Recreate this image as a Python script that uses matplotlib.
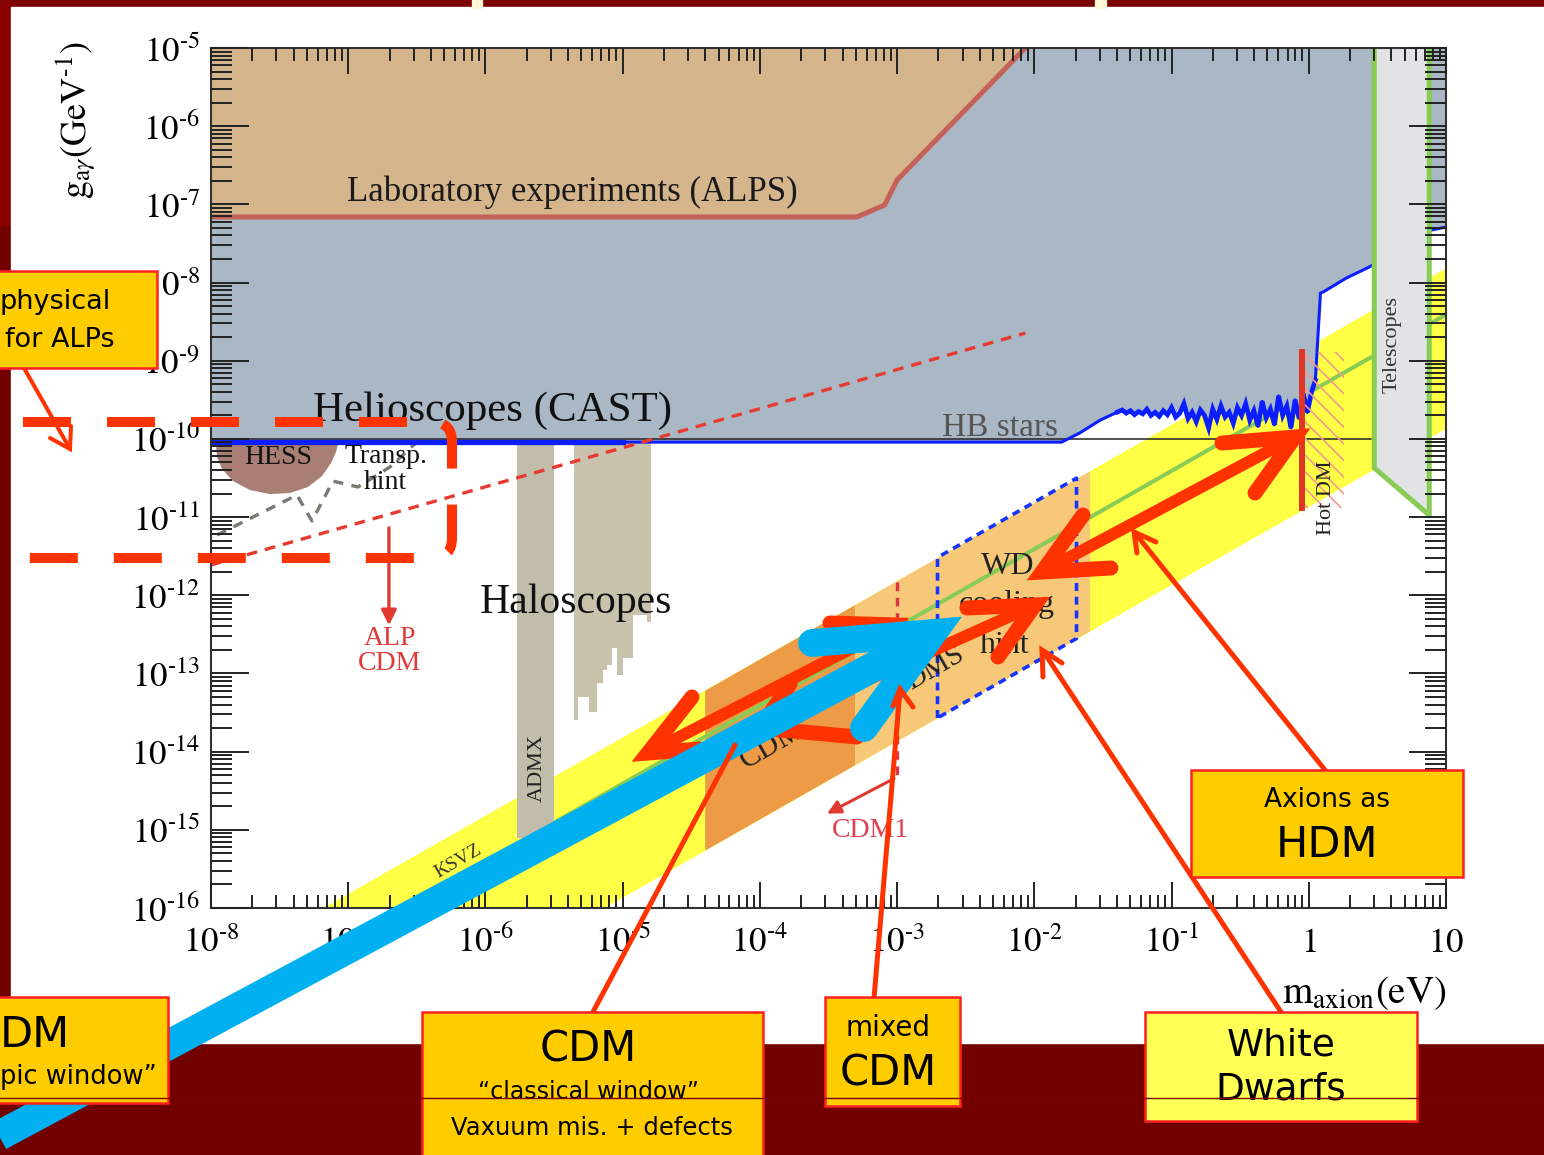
import numpy as np
import matplotlib
matplotlib.use("Agg")
import matplotlib.pyplot as plt
from matplotlib.patches import Rectangle, Polygon, PathPatch
from matplotlib.path import Path
from matplotlib.ticker import LogLocator, FuncFormatter, NullFormatter

plt.rcParams['mathtext.fontset'] = 'stix'
plt.rcParams['hatch.linewidth'] = 1.2

SERIF = 'Liberation Serif'
SANS = 'DejaVu Sans'
HY = '\u2010'  # short hyphen used in the exponents

# ---------------- chart values (m in eV, g in 1/GeV) ----------------
alps_m = [1e-8, 5.1e-4, 8.1e-4, 1.0e-3, 8.6e-3]
alps_g = [6.9e-8, 6.9e-8, 9.8e-8, 2.05e-7, 1e-5]

cast_m = [1e-8, 1.58e-2]
cast_g = [9.1e-11, 9.1e-11]
cast_thick_m = [1e-8, 1e-5]

# HB stars / telescope limit (log10 values)
hb_logm = [-1.67, -1.52, -1.394,
           -1.36, -1.33, -1.30, -1.27, -1.24, -1.21, -1.18, -1.15, -1.12, -1.09,
           -1.06, -1.03, -1.00, -0.97, -0.94, -0.91, -0.88, -0.85, -0.82, -0.79,
           -0.76, -0.73, -0.70, -0.67, -0.64, -0.61, -0.58, -0.55, -0.52, -0.49,
           -0.46, -0.43, -0.40, -0.37, -0.34, -0.31, -0.28, -0.25, -0.22, -0.19,
           -0.16, -0.13, -0.10, -0.07, -0.04, -0.01, 0.02,
           0.048, 0.085, 0.106, 0.274, 0.441, 0.893, 1.0]
hb_logg = [-9.925, -9.76, -9.656,
           -9.63, -9.67, -9.64, -9.69, -9.65, -9.68, -9.62, -9.70, -9.66, -9.71,
           -9.64, -9.69, -9.60, -9.72, -9.67, -9.55, -9.74, -9.66, -9.78, -9.63,
           -9.70, -9.86, -9.62, -9.75, -9.58, -9.72, -9.66, -9.80, -9.60, -9.70,
           -9.55, -9.76, -9.64, -9.84, -9.52, -9.73, -9.62, -9.82, -9.45, -9.70,
           -9.58, -9.86, -9.50, -9.74, -9.42, -9.66, -9.40,
           -9.25, -8.134, -8.12, -7.942, -7.801, -7.328, -7.29]

hb_limit_m = [1e-8, 2.85]
hb_limit_g = [1e-10, 1e-10]

# axion band (KSVZ / DFSZ)
band_m = [1e-8, 10.0]
band_hi = [1.55e-17, 1.55e-8]
band_lo = [1.38e-19, 1.38e-10]
ksvz_g = [3.9e-18, 3.9e-9]

cdm_dark_m = [3.96e-5, 4.9e-4]
cdm_dark_hi = [6.1e-14, 7.6e-13]
cdm_dark_lo = [5.5e-16, 6.8e-15]
cdm_light_m = [4.9e-4, 2.52e-2]
cdm_light_hi = [7.6e-13, 3.9e-11]
cdm_light_lo = [6.8e-15, 3.5e-13]

wd_m = [1.97e-3, 1.97e-3, 2.03e-2, 2.03e-2, 1.97e-3]
wd_g = [2.7e-14, 3.05e-12, 3.15e-11, 2.8e-13, 2.7e-14]

tel_m = [3.0, 3.0, 7.55, 7.55]
tel_g = [1e-5, 4.25e-11, 1.06e-11, 1e-5]

hotdm_m = 0.90
hotdm_g = [1.3e-9, 1.3e-11]
hotdm_hatch_m = [0.9, 1.8]

hess_logm = [-7.964, -7.074, -7.089, -7.125, -7.191, -7.293, -7.424, -7.570,
             -7.716, -7.840, -7.920, -7.956]
hess_logg = [-10.065, -10.065, -10.168, -10.308, -10.475, -10.615, -10.692,
             -10.705, -10.654, -10.539, -10.385, -10.232]
transp_logm = [-7.956, -7.374, -7.264, -7.111, -6.929, -6.696, -6.500]
transp_logg = [-11.229, -10.718, -11.050, -10.539, -10.615, -10.359, -10.040]

admx_m = [1.69e-6, 3.15e-6]
admx_g_bottom = 7.9e-16
halo_logm = [-5.356, -5.327, -5.247, -5.189, -5.145, -5.116, -5.079, -5.043,
             -4.999, -4.926, -4.824, -4.795]
halo_logg_bottom = [-13.596, -13.301, -13.493, -13.122, -12.956, -12.892,
                    -12.674, -13.020, -12.803, -12.253, -12.342]
halo_top_g = 9.1e-11

alp_cdm_line_m = [1e-8, 8.6e-3]
alp_cdm_line_g = [2.44e-12, 2.26e-9]
alp_cdm_arrow_m = 1.98e-7
alp_cdm_arrow_g = [7.9e-12, 3.8e-13]
cdm1_m = 9.9e-4
cdm1_g = [1.48e-12, 4.7e-15]
cdm1_tip = (2.96e-4, 1.55e-15)

# ---------------- figure ----------------
W, H = 1544, 1155
fig = plt.figure(figsize=(W / 100, H / 100), dpi=100)

# slide background (pixel coordinates)
bg = fig.add_axes([0, 0, 1, 1], zorder=-10)
bg.set_xlim(0, W); bg.set_ylim(H, 0); bg.axis('off')
bg.add_patch(Rectangle((0, 0), W, H, color='#720000'))
bg.add_patch(Rectangle((0, 0), W, 8, color='#7C0000'))
bg.add_patch(Rectangle((0, 0), 11, 225, color='#880000'))
bg.add_patch(Rectangle((11, 7), W - 11, 1036, color='white'))
bg.add_patch(Rectangle((472, 0), 10, 8, color='#FFF8D8'))
bg.add_patch(Rectangle((1095, 0), 11, 8, color='#FFF8D8'))

# main log-log chart
ax = fig.add_axes([211 / W, 1 - 908 / H, 1235 / W, 860 / H])
ax.set_xscale('log'); ax.set_yscale('log')
ax.set_xlim(1e-8, 10); ax.set_ylim(1e-16, 1e-5)

blue_m = np.concatenate([cast_m, 10 ** np.array(hb_logm)])
blue_g = np.concatenate([cast_g, 10 ** np.array(hb_logg)])

ax.fill_between(band_m, band_lo, band_hi, color='#FFFF46', lw=0, zorder=1)
ax.fill_between(cdm_dark_m, cdm_dark_lo, cdm_dark_hi, color='#EE9B48', lw=0, zorder=1.1)
ax.fill_between(cdm_light_m, cdm_light_lo, cdm_light_hi, color='#F6C877', lw=0, zorder=1.1)
ax.plot(band_m, ksvz_g, color='#88CC55', lw=2.9, zorder=1.2)

ax.fill_between(blue_m, blue_g, 1e-5, color='#AAB7C5', lw=0, zorder=1.5)
ax.fill_between(alps_m, alps_g, 1e-5, color='#D5B58B', lw=0, zorder=1.6)
ax.plot(alps_m, alps_g, color='#C4625A', lw=3.6, zorder=1.7)

# haloscopes
ax.fill_between(admx_m, admx_g_bottom, halo_top_g, color='#C2BDAB', lw=0, zorder=2)
halo_m = 10 ** np.array(halo_logm)
halo_b = 10 ** np.array(halo_logg_bottom + [halo_logg_bottom[-1]])
ax.fill_between(halo_m, halo_b, halo_top_g, step='post', color='#C9C3AE', lw=0, zorder=2)

# HESS and transparency hint
ax.add_patch(Polygon(np.column_stack([10 ** np.array(hess_logm), 10 ** np.array(hess_logg)]),
                     closed=True, facecolor='#A97F75', edgecolor='none', zorder=2))
ax.plot(10 ** np.array(transp_logm), 10 ** np.array(transp_logg), color='#7A7A72',
        lw=2.4, ls=(0, (3, 2.5)), zorder=2.1)

# CAST / HB limits
ax.plot(hb_limit_m, hb_limit_g, color='#222222', lw=1.1, zorder=3)
ax.plot(blue_m, blue_g, color='#0A1EFF', lw=2.2, zorder=3.1)
ax.plot(10 ** np.array(hb_logm[2:51]), 10 ** np.array(hb_logg[2:51]), color='#0A1EFF',
        lw=3.4, solid_joinstyle='miter', zorder=3.1)
ax.plot(cast_thick_m, cast_g, color='#0A1EFF', lw=3.8, zorder=3.1)

# telescopes
ax.fill(tel_m, tel_g, color='#E2E3E5', lw=0, zorder=3.15)
ax.plot(tel_m, tel_g, color='#88CC55', lw=3.6, zorder=3.16)

# WD cooling hint, CDM1, hot DM
ax.plot(wd_m, wd_g, color='#1535FF', lw=2.6, ls=(0, (2.2, 1.6)), zorder=3.2)
ax.plot([cdm1_m, cdm1_m], cdm1_g, color='#DD3344', lw=2.4, ls=(0, (2.6, 2.0)), zorder=3.2)
ax.add_patch(Rectangle((hotdm_hatch_m[0], hotdm_g[1]), hotdm_hatch_m[1] - hotdm_hatch_m[0],
                       hotdm_g[0] - hotdm_g[1], fill=False, edgecolor='#F49A8A', lw=0,
                       hatch='\\\\', zorder=3.2))
ax.plot([hotdm_m, hotdm_m], hotdm_g, color='#E03525', lw=4.3, zorder=3.3)

# labels inside the chart
tk = dict(family=SERIF, ha='center', va='center', zorder=5)
ax.text(4.3e-6, 1.44e-7, 'Laboratory experiments (ALPS)', fontsize=25, color='#1a1a1a', **tk)
ax.text(1.12e-6, 2.3e-10, 'Helioscopes (CAST)', fontsize=31, color='#111111', **tk)
ax.text(5.6e-3, 1.38e-10, 'HB stars', fontsize=24, color='#555555', **tk)
ax.text(3.1e-8, 5.7e-11, 'HESS', fontsize=20, color='#111111', **tk)
ax.text(1.9e-7, 5.9e-11, 'Transp.', fontsize=20, color='#111111', **tk)
ax.text(1.85e-7, 2.8e-11, 'hint', fontsize=20, color='#111111', **tk)
ax.text(4.6e-6, 8.0e-13, 'Haloscopes', fontsize=30, color='#111111', **tk)
ax.text(2.0e-7, 1.95e-13, 'ALP\nCDM', fontsize=20, color='#E03A3A', linespacing=1.0, **tk)
ax.text(2.4e-6, 6.2e-15, 'ADMX', fontsize=16, rotation=90, color='#222222', **tk)
ax.text(6.3e-7, 3.9e-16, 'KSVZ', fontsize=14, rotation=30, color='#333333', **tk)
ax.text(1.23e-4, 1.2e-14, 'CDM', fontsize=22, rotation=30, color='#222222', **tk)
ax.text(1.9e-3, 1.17e-13, 'DMS', fontsize=21, rotation=30, color='#222222', **tk)
ax.text(6.4e-3, 2.3e-12, 'WD', fontsize=23, color='#222222', **tk)
ax.text(6.3e-3, 7.7e-13, 'cooling', fontsize=23, color='#222222', **tk)
ax.text(6.1e-3, 2.3e-13, 'hint', fontsize=23, color='#222222', **tk)
ax.text(6.4e-4, 9.7e-16, 'CDM1', fontsize=20, color='#E04050', **tk)
ax.text(1.34, 1.75e-11, 'Hot DM', fontsize=16, rotation=90, color='#222222', **tk)
ax.text(4.05, 1.59e-9, 'Telescopes', fontsize=16, rotation=90, color='#333333', **tk)

# ALP CDM line and arrows
ax.plot(alp_cdm_line_m, alp_cdm_line_g, color='#E83A2E', lw=2.4, ls=(0, (3.2, 2.4)), zorder=5.5)
ax.annotate('', xy=(alp_cdm_arrow_m, alp_cdm_arrow_g[1]), xytext=(alp_cdm_arrow_m, alp_cdm_arrow_g[0]),
            arrowprops=dict(arrowstyle='-|>,head_length=0.9,head_width=0.45', color='#E03A30', lw=2.4),
            zorder=5.5)
ax.annotate('', xy=cdm1_tip, xytext=(cdm1_m, cdm1_g[1]),
            arrowprops=dict(arrowstyle='-|>,head_length=0.8,head_width=0.4', color='#E03A30', lw=2.2),
            zorder=5.5)

# axes styling
def decade_label(v, pos):
    e = int(round(np.log10(v)))
    if e == 0:
        return '$1$'
    if e == 1:
        return '$10$'
    return '$10^{%s%d}$' % (HY, -e)

for axis in (ax.xaxis, ax.yaxis):
    axis.set_major_locator(LogLocator(base=10, numticks=30))
    axis.set_minor_locator(LogLocator(base=10, subs=np.arange(2, 10), numticks=200))
    axis.set_major_formatter(FuncFormatter(decade_label))
    axis.set_minor_formatter(NullFormatter())
    axis.set_zorder(20)
ax.tick_params(which='both', direction='in', top=True, right=True, width=1.4, color='#222222')
ax.tick_params(axis='x', which='major', length=19, pad=12, labelsize=25)
ax.tick_params(axis='x', which='minor', length=9.5)
ax.tick_params(axis='y', which='major', length=27, pad=8, labelsize=25)
ax.tick_params(axis='y', which='minor', length=15)
for sp in ax.spines.values():
    sp.set_linewidth(1.5); sp.set_color('#333333'); sp.set_zorder(20)

ax.set_ylabel(r'$\mathrm{g}_{\mathrm{a}\gamma}(\mathrm{GeV}^{%s1})$' % HY, fontsize=26)
ax.yaxis.set_label_coords(-0.0915, 0.916)
ax.set_xlabel(r'$\mathrm{m}_{\mathrm{axion}}(\mathrm{eV})$', fontsize=28, ha='right')
ax.xaxis.set_label_coords(1.0, -0.077)

# ---------------- slide annotations (pixel coordinates) ----------------
ov = fig.add_axes([0, 0, 1, 1], zorder=10)
ov.set_xlim(0, W); ov.set_ylim(H, 0); ov.axis('off'); ov.patch.set_alpha(0)

RED = '#FF3300'
BLUE = '#00B0F0'


def stroke(pts, color, lw, cap='round', z=1):
    xs, ys = zip(*pts)
    ov.plot(xs, ys, color=color, lw=lw, solid_capstyle=cap, solid_joinstyle='miter', zorder=z)


def box(x0, y0, x1, y1, fc, z=6):
    ov.add_patch(Rectangle((x0, y0), x1 - x0, y1 - y0, facecolor=fc, edgecolor='#FF2020',
                           lw=1.8, zorder=z))


def label(x, y, s, size, ha='center', z=7):
    ov.text(x, y, s, fontsize=size, family=SANS, ha=ha, va='center', zorder=z, color='black')


# dashed frame around the astrophysical hints
frame = Path([(23, 422), (432, 422), (452, 422), (452, 442), (452, 538), (452, 558),
              (432, 558), (20, 558)],
             [Path.MOVETO, Path.LINETO, Path.CURVE3, Path.CURVE3, Path.LINETO,
              Path.CURVE3, Path.CURVE3, Path.LINETO])
ov.add_patch(PathPatch(frame, fill=False, edgecolor=RED, lw=7.2, linestyle=(0, (4.8, 3.6)),
                       capstyle='butt', zorder=2))
stroke([(24, 368), (70, 449)], RED, 2.9, z=2)
stroke([(50, 438), (70, 449), (71, 426)], RED, 2.9, z=2)

# thick double arrows
stroke([(648, 753), (897, 625)], RED, 8.6, cap='butt', z=3)
stroke([(692, 697), (648, 753), (700, 749)], RED, 10.8, z=3)
stroke([(830, 623), (897, 625), (872, 676)], RED, 10.8, z=3)
stroke([(760, 728), (1033, 606)], RED, 8.6, cap='butt', z=3)
stroke([(790, 684), (760, 728), (857, 737)], RED, 10.8, z=3)
stroke([(967, 608), (1035, 605), (998, 657)], RED, 10.8, z=3)

# blue arrow
stroke([(-20, 1146), (905, 650)], BLUE, 21.6, cap='butt', z=4)
stroke([(812, 643), (933, 633), (864, 728)], BLUE, 20, z=4)

stroke([(1042, 572), (1295, 437)], RED, 8.6, cap='butt', z=4)
stroke([(1083, 515), (1042, 572), (1111, 568)], RED, 10.8, z=4)
stroke([(1222, 443), (1295, 437), (1255, 493)], RED, 10.8, z=4)

# callout lines
stroke([(593, 1012), (735, 745)], RED, 3.6, z=5)
stroke([(873, 1010), (900, 690)], RED, 3.6, z=5)
stroke([(893, 706), (900, 689), (913, 707)], RED, 3.6, z=5)
stroke([(1281, 1012), (1043, 651)], RED, 3.6, z=5)
stroke([(1062, 663), (1042, 650), (1043, 677)], RED, 3.6, z=5)
stroke([(1325, 770), (1135, 533)], RED, 3.6, z=5)
stroke([(1156, 542), (1134, 532), (1137, 553)], RED, 3.6, z=5)

# boxes
box(-10, 271, 157, 368, '#FFCC00')
label(0, 302, 'physical', 19.5, ha='left')
label(5, 340, 'for ALPs', 19.5, ha='left')

box(-10, 997, 168, 1103, '#FFCC00')
label(0, 1035, 'DM', 31, ha='left')
label(0, 1077, 'pic window\u201d', 18.5, ha='left')

box(422, 1012, 763, 1165, '#FFCC00')
label(588, 1050, 'CDM', 30)
label(588, 1092, '\u201cclassical window\u201d', 17)
label(592, 1128, 'Vaxuum mis. + defects', 17.5)

box(825, 997, 960, 1106, '#FFCC00')
label(888, 1028, 'mixed', 20)
label(888, 1073, 'CDM', 30)

box(1191, 770, 1463, 877, '#FFCC00')
label(1327, 800, 'Axions as', 19)
label(1327, 845, 'HDM', 31)

box(1145, 1012, 1417, 1121, '#FFFF55')
label(1281, 1045, 'White', 27)
label(1281, 1090, 'Dwarfs', 27)

ov.plot([0, W], [1098, 1098], color='#7A0000', lw=1.0, zorder=8)

fig.savefig('out.png', dpi=100)
